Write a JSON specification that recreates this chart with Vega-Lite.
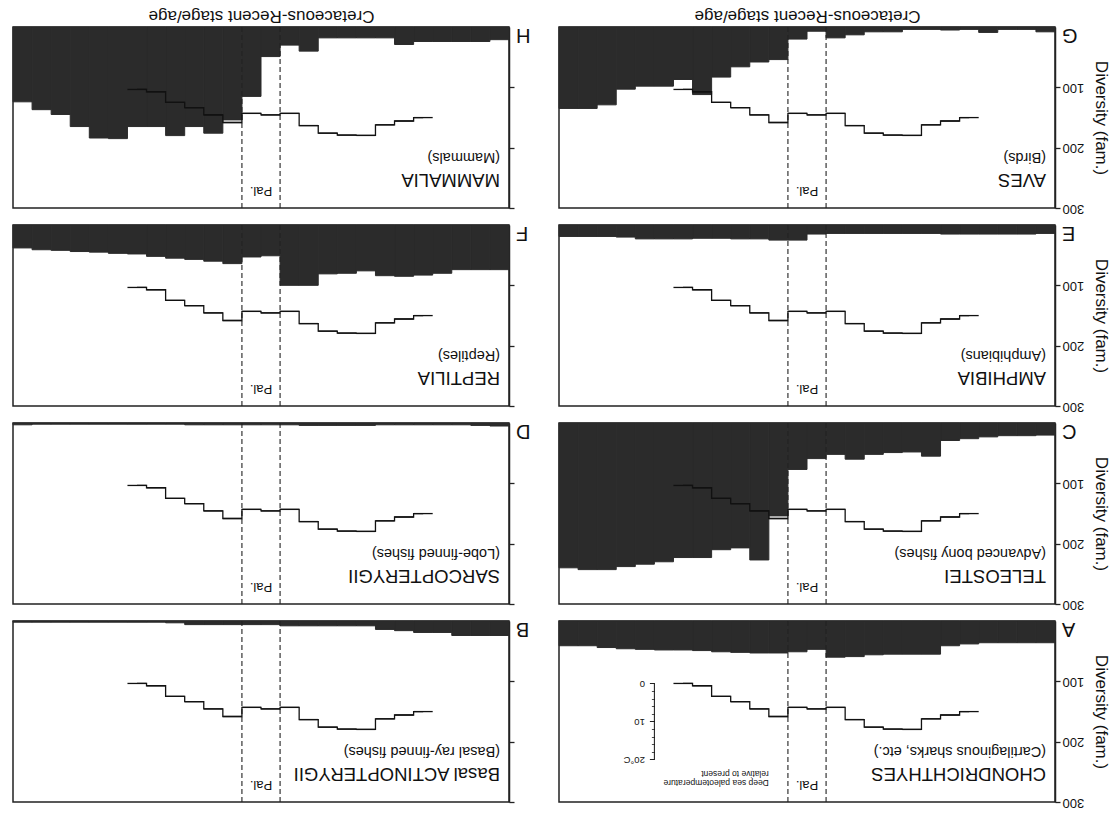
{
"$schema": "https://vega.github.io/schema/vega-lite/v6.json",
"background": "#ffffff",
"padding": {"left": 11, "top": 6, "right": 5, "bottom": 5},
"config": {
  "view": {"stroke": "#222222", "strokeWidth": 1.5},
  "font": "Liberation Sans",
  "axis": {"grid": false, "domainColor": "#222222", "tickColor": "#222222", "labelColor": "#111111", "titleColor": "#111111", "labelFont": "Liberation Sans", "titleFont": "Liberation Sans", "domainWidth": 1.5, "tickWidth": 1.3},
  "text": {"font": "Liberation Sans", "color": "#111111"}
},
"datasets": {
  "div": [
    {"stage":"Berriasian","A":36,"B":24,"C":20,"D":5,"E":14,"F":74,"G":8,"H":21},
    {"stage":"Valanginian","A":36,"B":24,"C":21,"D":4,"E":15,"F":74,"G":4,"H":24},
    {"stage":"Hauterivian","A":36,"B":24,"C":21,"D":3,"E":15,"F":74,"G":4,"H":24},
    {"stage":"Barremian","A":36,"B":19,"C":23,"D":3,"E":15,"F":80,"G":9,"H":24},
    {"stage":"Aptian","A":38,"B":19,"C":26,"D":3,"E":15,"F":83,"G":4,"H":24},
    {"stage":"Albian","A":41,"B":16,"C":29,"D":3,"E":15,"F":85,"G":5,"H":29},
    {"stage":"Cenomanian","A":55,"B":14,"C":55,"D":3,"E":14,"F":84,"G":4,"H":18},
    {"stage":"Turonian","A":55,"B":8,"C":48,"D":4,"E":14,"F":76,"G":4,"H":18},
    {"stage":"Coniacian","A":55,"B":8,"C":49,"D":4,"E":14,"F":80,"G":8,"H":18},
    {"stage":"Santonian","A":56,"B":8,"C":52,"D":4,"E":14,"F":81,"G":8,"H":18},
    {"stage":"Campanian","A":59,"B":8,"C":60,"D":4,"E":14,"F":100,"G":13,"H":40},
    {"stage":"Maastrichtian","A":60,"B":8,"C":52,"D":3,"E":14,"F":100,"G":18,"H":30},
    {"stage":"Danian","A":47,"B":6,"C":59,"D":3,"E":15,"F":51,"G":7,"H":49},
    {"stage":"Thanetian","A":51,"B":6,"C":77,"D":3,"E":25,"F":53,"G":20,"H":115},
    {"stage":"Ypresian","A":53,"B":6,"C":154,"D":3,"E":25,"F":64,"G":54,"H":154},
    {"stage":"Lutetian","A":53,"B":6,"C":227,"D":3,"E":23,"F":60,"G":58,"H":176},
    {"stage":"Bartonian","A":52,"B":6,"C":207,"D":3,"E":23,"F":57,"G":66,"H":165},
    {"stage":"Priabonian","A":51,"B":3,"C":210,"D":2,"E":22,"F":55,"G":83,"H":180},
    {"stage":"Rupelian","A":49,"B":2,"C":223,"D":2,"E":22,"F":52,"G":112,"H":165},
    {"stage":"Chattian","A":48,"B":2,"C":223,"D":2,"E":23,"F":48,"G":87,"H":165},
    {"stage":"Lower Miocene","A":48,"B":2,"C":230,"D":2,"E":23,"F":47,"G":98,"H":185},
    {"stage":"Middle Miocene","A":47,"B":2,"C":234,"D":2,"E":23,"F":45,"G":98,"H":184},
    {"stage":"Upper Miocene","A":46,"B":2,"C":238,"D":2,"E":20,"F":44,"G":103,"H":165},
    {"stage":"Pliocene","A":44,"B":2,"C":243,"D":2,"E":19,"F":42,"G":129,"H":145},
    {"stage":"Pleistocene","A":41,"B":2,"C":243,"D":2,"E":19,"F":41,"G":135,"H":137},
    {"stage":"Recent","A":41,"B":2,"C":240,"D":3,"E":19,"F":38,"G":135,"H":124}
  ],
  "temp": [
    {"stage":"Aptian","temp":7.4},{"stage":"Albian","temp":8.3},{"stage":"Cenomanian","temp":9.3},
    {"stage":"Turonian","temp":12.1},{"stage":"Coniacian","temp":12.0},{"stage":"Santonian","temp":11.5},
    {"stage":"Campanian","temp":9.5},{"stage":"Maastrichtian","temp":6.3},{"stage":"Danian","temp":6.7},
    {"stage":"Thanetian","temp":6.3},{"stage":"Ypresian","temp":8.7},{"stage":"Lutetian","temp":6.7},
    {"stage":"Bartonian","temp":4.8},{"stage":"Priabonian","temp":3.4},{"stage":"Rupelian","temp":0.6},
    {"stage":"Chattian","temp":0.0}
  ],
  "pal": [{"stage":"Maastrichtian"},{"stage":"Thanetian"}]
},
"columns": 2,
"spacing": {"row": 17, "column": 50},
"bounds": "flush",
"concat": [
  {"width": 496, "height": 181, "resolve": {"scale": {"y": "independent"}},
   "layer": [
    {"data": {"name": "div"}, "mark": {"type": "bar", "fill": "#2b2b2b", "stroke": "#2b2b2b", "strokeWidth": 1},
     "encoding": {
      "x": {"field": "stage", "type": "ordinal", "scale": {"type":"band","domain":["Berriasian","Valanginian","Hauterivian","Barremian","Aptian","Albian","Cenomanian","Turonian","Coniacian","Santonian","Campanian","Maastrichtian","Danian","Thanetian","Ypresian","Lutetian","Bartonian","Priabonian","Rupelian","Chattian","Lower Miocene","Middle Miocene","Upper Miocene","Pliocene","Pleistocene","Recent"],"reverse":true,"paddingInner":0,"paddingOuter":0},
            "axis": {"orient":"top","labels":false,"ticks":false,"domain":false,"title":"Cretaceous-Recent stage/age","titleAngle":180,"titleBaseline":"top","titleFontSize":17,"titleFontWeight":"normal","titlePadding":4}},
      "y": {"field": "H", "type": "quantitative", "scale": {"domain":[0,300],"reverse":true,"nice":false,"zero":false},
            "axis": {"orient":"right","values":[100,200,300],"labels":false,"tickSize":5,"title":null}}}},
    {"data": {"name": "pal"}, "mark": {"type": "rule", "strokeDash": [5, 3], "strokeWidth": 1.1, "color": "#222222"},
     "encoding": {"x": {"field": "stage", "type": "ordinal", "bandPosition": 0, "scale": {"type":"band","domain":["Berriasian","Valanginian","Hauterivian","Barremian","Aptian","Albian","Cenomanian","Turonian","Coniacian","Santonian","Campanian","Maastrichtian","Danian","Thanetian","Ypresian","Lutetian","Bartonian","Priabonian","Rupelian","Chattian","Lower Miocene","Middle Miocene","Upper Miocene","Pliocene","Pleistocene","Recent"],"reverse":true,"paddingInner":0,"paddingOuter":0}}}},
    {"data": {"values": [{}]}, "mark": {"type": "text", "text": "Pal.", "angle": 180, "fontSize": 13, "align": "center", "baseline": "middle"},
     "encoding": {"x": {"datum": "Danian", "type": "ordinal", "bandPosition": 0, "scale": {"type":"band","domain":["Berriasian","Valanginian","Hauterivian","Barremian","Aptian","Albian","Cenomanian","Turonian","Coniacian","Santonian","Campanian","Maastrichtian","Danian","Thanetian","Ypresian","Lutetian","Bartonian","Priabonian","Rupelian","Chattian","Lower Miocene","Middle Miocene","Upper Miocene","Pliocene","Pleistocene","Recent"],"reverse":true,"paddingInner":0,"paddingOuter":0}},
                  "y": {"datum": 272, "type": "quantitative", "axis": null, "scale": {"domain":[0,300],"reverse":true,"nice":false,"zero":false}}}},
    {"data": {"values": [{}]}, "mark": {"type": "text", "text": "MAMMALIA", "angle": 180, "fontSize": 18.5, "align": "left", "baseline": "middle", "dx": 9},
     "encoding": {"x": {"datum": "Berriasian", "type": "ordinal", "bandPosition": 1, "scale": {"type":"band","domain":["Berriasian","Valanginian","Hauterivian","Barremian","Aptian","Albian","Cenomanian","Turonian","Coniacian","Santonian","Campanian","Maastrichtian","Danian","Thanetian","Ypresian","Lutetian","Bartonian","Priabonian","Rupelian","Chattian","Lower Miocene","Middle Miocene","Upper Miocene","Pliocene","Pleistocene","Recent"],"reverse":true,"paddingInner":0,"paddingOuter":0}},
                  "y": {"datum": 253, "type": "quantitative", "axis": null, "scale": {"domain":[0,300],"reverse":true,"nice":false,"zero":false}}}},
    {"data": {"values": [{}]}, "mark": {"type": "text", "text": "(Mammals)", "angle": 180, "fontSize": 14.5, "align": "left", "baseline": "middle", "dx": 9},
     "encoding": {"x": {"datum": "Berriasian", "type": "ordinal", "bandPosition": 1, "scale": {"type":"band","domain":["Berriasian","Valanginian","Hauterivian","Barremian","Aptian","Albian","Cenomanian","Turonian","Coniacian","Santonian","Campanian","Maastrichtian","Danian","Thanetian","Ypresian","Lutetian","Bartonian","Priabonian","Rupelian","Chattian","Lower Miocene","Middle Miocene","Upper Miocene","Pliocene","Pleistocene","Recent"],"reverse":true,"paddingInner":0,"paddingOuter":0}},
                  "y": {"datum": 216, "type": "quantitative", "axis": null, "scale": {"domain":[0,300],"reverse":true,"nice":false,"zero":false}}}},
    {"data": {"values": [{}]}, "mark": {"type": "text", "text": "H", "angle": 180, "fontSize": 20, "align": "right", "baseline": "alphabetic", "dx": -7, "dy": -2},
     "encoding": {"x": {"datum": "Berriasian", "type": "ordinal", "bandPosition": 1, "scale": {"type":"band","domain":["Berriasian","Valanginian","Hauterivian","Barremian","Aptian","Albian","Cenomanian","Turonian","Coniacian","Santonian","Campanian","Maastrichtian","Danian","Thanetian","Ypresian","Lutetian","Bartonian","Priabonian","Rupelian","Chattian","Lower Miocene","Middle Miocene","Upper Miocene","Pliocene","Pleistocene","Recent"],"reverse":true,"paddingInner":0,"paddingOuter":0}},
                  "y": {"datum": 0, "type": "quantitative", "axis": null, "scale": {"domain":[0,300],"reverse":true,"nice":false,"zero":false}}}},
    {"data": {"name": "temp"}, "mark": {"type": "rule", "strokeWidth": 1.3, "color": "#111111"},
     "encoding": {"x": {"field": "stage", "type": "ordinal", "bandPosition": 0, "scale": {"type":"band","domain":["Berriasian","Valanginian","Hauterivian","Barremian","Aptian","Albian","Cenomanian","Turonian","Coniacian","Santonian","Campanian","Maastrichtian","Danian","Thanetian","Ypresian","Lutetian","Bartonian","Priabonian","Rupelian","Chattian","Lower Miocene","Middle Miocene","Upper Miocene","Pliocene","Pleistocene","Recent"],"reverse":true,"paddingInner":0,"paddingOuter":0}},
                  "x2": {"field": "stage", "bandPosition": 1},
                  "y": {"field": "temp", "type": "quantitative", "axis": null, "scale": {"domain":[-16.43,31.19],"reverse":true,"nice":false,"zero":false}}}},
    {"data": {"name": "temp"}, "mark": {"type": "line", "interpolate": "step", "strokeWidth": 1.3, "color": "#111111"},
     "encoding": {"x": {"field": "stage", "type": "ordinal", "sort": ["Berriasian","Valanginian","Hauterivian","Barremian","Aptian","Albian","Cenomanian","Turonian","Coniacian","Santonian","Campanian","Maastrichtian","Danian","Thanetian","Ypresian","Lutetian","Bartonian","Priabonian","Rupelian","Chattian","Lower Miocene","Middle Miocene","Upper Miocene","Pliocene","Pleistocene","Recent"], "scale": {"type":"band","domain":["Berriasian","Valanginian","Hauterivian","Barremian","Aptian","Albian","Cenomanian","Turonian","Coniacian","Santonian","Campanian","Maastrichtian","Danian","Thanetian","Ypresian","Lutetian","Bartonian","Priabonian","Rupelian","Chattian","Lower Miocene","Middle Miocene","Upper Miocene","Pliocene","Pleistocene","Recent"],"reverse":true,"paddingInner":0,"paddingOuter":0}},
                  "y": {"field": "temp", "type": "quantitative", "axis": null, "scale": {"domain":[-16.43,31.19],"reverse":true,"nice":false,"zero":false}}}}
   ]},
  {"width": 496, "height": 181, "resolve": {"scale": {"y": "independent"}},
   "layer": [
    {"data": {"name": "div"}, "mark": {"type": "bar", "fill": "#2b2b2b", "stroke": "#2b2b2b", "strokeWidth": 1},
     "encoding": {
      "x": {"field": "stage", "type": "ordinal", "scale": {"type":"band","domain":["Berriasian","Valanginian","Hauterivian","Barremian","Aptian","Albian","Cenomanian","Turonian","Coniacian","Santonian","Campanian","Maastrichtian","Danian","Thanetian","Ypresian","Lutetian","Bartonian","Priabonian","Rupelian","Chattian","Lower Miocene","Middle Miocene","Upper Miocene","Pliocene","Pleistocene","Recent"],"reverse":true,"paddingInner":0,"paddingOuter":0},
            "axis": {"orient":"top","labels":false,"ticks":false,"domain":false,"title":"Cretaceous-Recent stage/age","titleAngle":180,"titleBaseline":"top","titleFontSize":17,"titleFontWeight":"normal","titlePadding":4}},
      "y": {"field": "G", "type": "quantitative", "scale": {"domain":[0,300],"reverse":true,"nice":false,"zero":false},
            "axis": {"orient":"right","values":[100,200,300],"labelAngle":180,"labelAlign":"right","labelBaseline":"middle","labelFontSize":13,"labelPadding":2,"tickSize":5,"title":"Diversity (fam.)","titleFontSize":17,"titleFontWeight":"normal","titlePadding":8}}}},
    {"data": {"name": "pal"}, "mark": {"type": "rule", "strokeDash": [5, 3], "strokeWidth": 1.1, "color": "#222222"},
     "encoding": {"x": {"field": "stage", "type": "ordinal", "bandPosition": 0, "scale": {"type":"band","domain":["Berriasian","Valanginian","Hauterivian","Barremian","Aptian","Albian","Cenomanian","Turonian","Coniacian","Santonian","Campanian","Maastrichtian","Danian","Thanetian","Ypresian","Lutetian","Bartonian","Priabonian","Rupelian","Chattian","Lower Miocene","Middle Miocene","Upper Miocene","Pliocene","Pleistocene","Recent"],"reverse":true,"paddingInner":0,"paddingOuter":0}}}},
    {"data": {"values": [{}]}, "mark": {"type": "text", "text": "Pal.", "angle": 180, "fontSize": 13, "align": "center", "baseline": "middle"},
     "encoding": {"x": {"datum": "Danian", "type": "ordinal", "bandPosition": 0, "scale": {"type":"band","domain":["Berriasian","Valanginian","Hauterivian","Barremian","Aptian","Albian","Cenomanian","Turonian","Coniacian","Santonian","Campanian","Maastrichtian","Danian","Thanetian","Ypresian","Lutetian","Bartonian","Priabonian","Rupelian","Chattian","Lower Miocene","Middle Miocene","Upper Miocene","Pliocene","Pleistocene","Recent"],"reverse":true,"paddingInner":0,"paddingOuter":0}},
                  "y": {"datum": 272, "type": "quantitative", "axis": null, "scale": {"domain":[0,300],"reverse":true,"nice":false,"zero":false}}}},
    {"data": {"values": [{}]}, "mark": {"type": "text", "text": "AVES", "angle": 180, "fontSize": 18.5, "align": "left", "baseline": "middle", "dx": 9},
     "encoding": {"x": {"datum": "Berriasian", "type": "ordinal", "bandPosition": 1, "scale": {"type":"band","domain":["Berriasian","Valanginian","Hauterivian","Barremian","Aptian","Albian","Cenomanian","Turonian","Coniacian","Santonian","Campanian","Maastrichtian","Danian","Thanetian","Ypresian","Lutetian","Bartonian","Priabonian","Rupelian","Chattian","Lower Miocene","Middle Miocene","Upper Miocene","Pliocene","Pleistocene","Recent"],"reverse":true,"paddingInner":0,"paddingOuter":0}},
                  "y": {"datum": 253, "type": "quantitative", "axis": null, "scale": {"domain":[0,300],"reverse":true,"nice":false,"zero":false}}}},
    {"data": {"values": [{}]}, "mark": {"type": "text", "text": "(Birds)", "angle": 180, "fontSize": 14.5, "align": "left", "baseline": "middle", "dx": 9},
     "encoding": {"x": {"datum": "Berriasian", "type": "ordinal", "bandPosition": 1, "scale": {"type":"band","domain":["Berriasian","Valanginian","Hauterivian","Barremian","Aptian","Albian","Cenomanian","Turonian","Coniacian","Santonian","Campanian","Maastrichtian","Danian","Thanetian","Ypresian","Lutetian","Bartonian","Priabonian","Rupelian","Chattian","Lower Miocene","Middle Miocene","Upper Miocene","Pliocene","Pleistocene","Recent"],"reverse":true,"paddingInner":0,"paddingOuter":0}},
                  "y": {"datum": 216, "type": "quantitative", "axis": null, "scale": {"domain":[0,300],"reverse":true,"nice":false,"zero":false}}}},
    {"data": {"values": [{}]}, "mark": {"type": "text", "text": "G", "angle": 180, "fontSize": 20, "align": "right", "baseline": "alphabetic", "dx": -7, "dy": -2},
     "encoding": {"x": {"datum": "Berriasian", "type": "ordinal", "bandPosition": 1, "scale": {"type":"band","domain":["Berriasian","Valanginian","Hauterivian","Barremian","Aptian","Albian","Cenomanian","Turonian","Coniacian","Santonian","Campanian","Maastrichtian","Danian","Thanetian","Ypresian","Lutetian","Bartonian","Priabonian","Rupelian","Chattian","Lower Miocene","Middle Miocene","Upper Miocene","Pliocene","Pleistocene","Recent"],"reverse":true,"paddingInner":0,"paddingOuter":0}},
                  "y": {"datum": 0, "type": "quantitative", "axis": null, "scale": {"domain":[0,300],"reverse":true,"nice":false,"zero":false}}}},
    {"data": {"name": "temp"}, "mark": {"type": "rule", "strokeWidth": 1.3, "color": "#111111"},
     "encoding": {"x": {"field": "stage", "type": "ordinal", "bandPosition": 0, "scale": {"type":"band","domain":["Berriasian","Valanginian","Hauterivian","Barremian","Aptian","Albian","Cenomanian","Turonian","Coniacian","Santonian","Campanian","Maastrichtian","Danian","Thanetian","Ypresian","Lutetian","Bartonian","Priabonian","Rupelian","Chattian","Lower Miocene","Middle Miocene","Upper Miocene","Pliocene","Pleistocene","Recent"],"reverse":true,"paddingInner":0,"paddingOuter":0}},
                  "x2": {"field": "stage", "bandPosition": 1},
                  "y": {"field": "temp", "type": "quantitative", "axis": null, "scale": {"domain":[-16.43,31.19],"reverse":true,"nice":false,"zero":false}}}},
    {"data": {"name": "temp"}, "mark": {"type": "line", "interpolate": "step", "strokeWidth": 1.3, "color": "#111111"},
     "encoding": {"x": {"field": "stage", "type": "ordinal", "sort": ["Berriasian","Valanginian","Hauterivian","Barremian","Aptian","Albian","Cenomanian","Turonian","Coniacian","Santonian","Campanian","Maastrichtian","Danian","Thanetian","Ypresian","Lutetian","Bartonian","Priabonian","Rupelian","Chattian","Lower Miocene","Middle Miocene","Upper Miocene","Pliocene","Pleistocene","Recent"], "scale": {"type":"band","domain":["Berriasian","Valanginian","Hauterivian","Barremian","Aptian","Albian","Cenomanian","Turonian","Coniacian","Santonian","Campanian","Maastrichtian","Danian","Thanetian","Ypresian","Lutetian","Bartonian","Priabonian","Rupelian","Chattian","Lower Miocene","Middle Miocene","Upper Miocene","Pliocene","Pleistocene","Recent"],"reverse":true,"paddingInner":0,"paddingOuter":0}},
                  "y": {"field": "temp", "type": "quantitative", "axis": null, "scale": {"domain":[-16.43,31.19],"reverse":true,"nice":false,"zero":false}}}}
   ]},
  {"width": 496, "height": 181, "resolve": {"scale": {"y": "independent"}},
   "layer": [
    {"data": {"name": "div"}, "mark": {"type": "bar", "fill": "#2b2b2b", "stroke": "#2b2b2b", "strokeWidth": 1},
     "encoding": {
      "x": {"field": "stage", "type": "ordinal", "axis": null, "scale": {"type":"band","domain":["Berriasian","Valanginian","Hauterivian","Barremian","Aptian","Albian","Cenomanian","Turonian","Coniacian","Santonian","Campanian","Maastrichtian","Danian","Thanetian","Ypresian","Lutetian","Bartonian","Priabonian","Rupelian","Chattian","Lower Miocene","Middle Miocene","Upper Miocene","Pliocene","Pleistocene","Recent"],"reverse":true,"paddingInner":0,"paddingOuter":0}},
      "y": {"field": "F", "type": "quantitative", "scale": {"domain":[0,300],"reverse":true,"nice":false,"zero":false},
            "axis": {"orient":"right","values":[100,200,300],"labels":false,"tickSize":5,"title":null}}}},
    {"data": {"name": "pal"}, "mark": {"type": "rule", "strokeDash": [5, 3], "strokeWidth": 1.1, "color": "#222222"},
     "encoding": {"x": {"field": "stage", "type": "ordinal", "bandPosition": 0, "scale": {"type":"band","domain":["Berriasian","Valanginian","Hauterivian","Barremian","Aptian","Albian","Cenomanian","Turonian","Coniacian","Santonian","Campanian","Maastrichtian","Danian","Thanetian","Ypresian","Lutetian","Bartonian","Priabonian","Rupelian","Chattian","Lower Miocene","Middle Miocene","Upper Miocene","Pliocene","Pleistocene","Recent"],"reverse":true,"paddingInner":0,"paddingOuter":0}}}},
    {"data": {"values": [{}]}, "mark": {"type": "text", "text": "Pal.", "angle": 180, "fontSize": 13, "align": "center", "baseline": "middle"},
     "encoding": {"x": {"datum": "Danian", "type": "ordinal", "bandPosition": 0, "scale": {"type":"band","domain":["Berriasian","Valanginian","Hauterivian","Barremian","Aptian","Albian","Cenomanian","Turonian","Coniacian","Santonian","Campanian","Maastrichtian","Danian","Thanetian","Ypresian","Lutetian","Bartonian","Priabonian","Rupelian","Chattian","Lower Miocene","Middle Miocene","Upper Miocene","Pliocene","Pleistocene","Recent"],"reverse":true,"paddingInner":0,"paddingOuter":0}},
                  "y": {"datum": 272, "type": "quantitative", "axis": null, "scale": {"domain":[0,300],"reverse":true,"nice":false,"zero":false}}}},
    {"data": {"values": [{}]}, "mark": {"type": "text", "text": "REPTILIA", "angle": 180, "fontSize": 18.5, "align": "left", "baseline": "middle", "dx": 9},
     "encoding": {"x": {"datum": "Berriasian", "type": "ordinal", "bandPosition": 1, "scale": {"type":"band","domain":["Berriasian","Valanginian","Hauterivian","Barremian","Aptian","Albian","Cenomanian","Turonian","Coniacian","Santonian","Campanian","Maastrichtian","Danian","Thanetian","Ypresian","Lutetian","Bartonian","Priabonian","Rupelian","Chattian","Lower Miocene","Middle Miocene","Upper Miocene","Pliocene","Pleistocene","Recent"],"reverse":true,"paddingInner":0,"paddingOuter":0}},
                  "y": {"datum": 253, "type": "quantitative", "axis": null, "scale": {"domain":[0,300],"reverse":true,"nice":false,"zero":false}}}},
    {"data": {"values": [{}]}, "mark": {"type": "text", "text": "(Reptiles)", "angle": 180, "fontSize": 14.5, "align": "left", "baseline": "middle", "dx": 9},
     "encoding": {"x": {"datum": "Berriasian", "type": "ordinal", "bandPosition": 1, "scale": {"type":"band","domain":["Berriasian","Valanginian","Hauterivian","Barremian","Aptian","Albian","Cenomanian","Turonian","Coniacian","Santonian","Campanian","Maastrichtian","Danian","Thanetian","Ypresian","Lutetian","Bartonian","Priabonian","Rupelian","Chattian","Lower Miocene","Middle Miocene","Upper Miocene","Pliocene","Pleistocene","Recent"],"reverse":true,"paddingInner":0,"paddingOuter":0}},
                  "y": {"datum": 216, "type": "quantitative", "axis": null, "scale": {"domain":[0,300],"reverse":true,"nice":false,"zero":false}}}},
    {"data": {"values": [{}]}, "mark": {"type": "text", "text": "F", "angle": 180, "fontSize": 20, "align": "right", "baseline": "alphabetic", "dx": -7, "dy": -2},
     "encoding": {"x": {"datum": "Berriasian", "type": "ordinal", "bandPosition": 1, "scale": {"type":"band","domain":["Berriasian","Valanginian","Hauterivian","Barremian","Aptian","Albian","Cenomanian","Turonian","Coniacian","Santonian","Campanian","Maastrichtian","Danian","Thanetian","Ypresian","Lutetian","Bartonian","Priabonian","Rupelian","Chattian","Lower Miocene","Middle Miocene","Upper Miocene","Pliocene","Pleistocene","Recent"],"reverse":true,"paddingInner":0,"paddingOuter":0}},
                  "y": {"datum": 0, "type": "quantitative", "axis": null, "scale": {"domain":[0,300],"reverse":true,"nice":false,"zero":false}}}},
    {"data": {"name": "temp"}, "mark": {"type": "rule", "strokeWidth": 1.3, "color": "#111111"},
     "encoding": {"x": {"field": "stage", "type": "ordinal", "bandPosition": 0, "scale": {"type":"band","domain":["Berriasian","Valanginian","Hauterivian","Barremian","Aptian","Albian","Cenomanian","Turonian","Coniacian","Santonian","Campanian","Maastrichtian","Danian","Thanetian","Ypresian","Lutetian","Bartonian","Priabonian","Rupelian","Chattian","Lower Miocene","Middle Miocene","Upper Miocene","Pliocene","Pleistocene","Recent"],"reverse":true,"paddingInner":0,"paddingOuter":0}},
                  "x2": {"field": "stage", "bandPosition": 1},
                  "y": {"field": "temp", "type": "quantitative", "axis": null, "scale": {"domain":[-16.43,31.19],"reverse":true,"nice":false,"zero":false}}}},
    {"data": {"name": "temp"}, "mark": {"type": "line", "interpolate": "step", "strokeWidth": 1.3, "color": "#111111"},
     "encoding": {"x": {"field": "stage", "type": "ordinal", "sort": ["Berriasian","Valanginian","Hauterivian","Barremian","Aptian","Albian","Cenomanian","Turonian","Coniacian","Santonian","Campanian","Maastrichtian","Danian","Thanetian","Ypresian","Lutetian","Bartonian","Priabonian","Rupelian","Chattian","Lower Miocene","Middle Miocene","Upper Miocene","Pliocene","Pleistocene","Recent"], "scale": {"type":"band","domain":["Berriasian","Valanginian","Hauterivian","Barremian","Aptian","Albian","Cenomanian","Turonian","Coniacian","Santonian","Campanian","Maastrichtian","Danian","Thanetian","Ypresian","Lutetian","Bartonian","Priabonian","Rupelian","Chattian","Lower Miocene","Middle Miocene","Upper Miocene","Pliocene","Pleistocene","Recent"],"reverse":true,"paddingInner":0,"paddingOuter":0}},
                  "y": {"field": "temp", "type": "quantitative", "axis": null, "scale": {"domain":[-16.43,31.19],"reverse":true,"nice":false,"zero":false}}}}
   ]},
  {"width": 496, "height": 181, "resolve": {"scale": {"y": "independent"}},
   "layer": [
    {"data": {"name": "div"}, "mark": {"type": "bar", "fill": "#2b2b2b", "stroke": "#2b2b2b", "strokeWidth": 1},
     "encoding": {
      "x": {"field": "stage", "type": "ordinal", "axis": null, "scale": {"type":"band","domain":["Berriasian","Valanginian","Hauterivian","Barremian","Aptian","Albian","Cenomanian","Turonian","Coniacian","Santonian","Campanian","Maastrichtian","Danian","Thanetian","Ypresian","Lutetian","Bartonian","Priabonian","Rupelian","Chattian","Lower Miocene","Middle Miocene","Upper Miocene","Pliocene","Pleistocene","Recent"],"reverse":true,"paddingInner":0,"paddingOuter":0}},
      "y": {"field": "E", "type": "quantitative", "scale": {"domain":[0,300],"reverse":true,"nice":false,"zero":false},
            "axis": {"orient":"right","values":[100,200,300],"labelAngle":180,"labelAlign":"right","labelBaseline":"middle","labelFontSize":13,"labelPadding":2,"tickSize":5,"title":"Diversity (fam.)","titleFontSize":17,"titleFontWeight":"normal","titlePadding":8}}}},
    {"data": {"name": "pal"}, "mark": {"type": "rule", "strokeDash": [5, 3], "strokeWidth": 1.1, "color": "#222222"},
     "encoding": {"x": {"field": "stage", "type": "ordinal", "bandPosition": 0, "scale": {"type":"band","domain":["Berriasian","Valanginian","Hauterivian","Barremian","Aptian","Albian","Cenomanian","Turonian","Coniacian","Santonian","Campanian","Maastrichtian","Danian","Thanetian","Ypresian","Lutetian","Bartonian","Priabonian","Rupelian","Chattian","Lower Miocene","Middle Miocene","Upper Miocene","Pliocene","Pleistocene","Recent"],"reverse":true,"paddingInner":0,"paddingOuter":0}}}},
    {"data": {"values": [{}]}, "mark": {"type": "text", "text": "Pal.", "angle": 180, "fontSize": 13, "align": "center", "baseline": "middle"},
     "encoding": {"x": {"datum": "Danian", "type": "ordinal", "bandPosition": 0, "scale": {"type":"band","domain":["Berriasian","Valanginian","Hauterivian","Barremian","Aptian","Albian","Cenomanian","Turonian","Coniacian","Santonian","Campanian","Maastrichtian","Danian","Thanetian","Ypresian","Lutetian","Bartonian","Priabonian","Rupelian","Chattian","Lower Miocene","Middle Miocene","Upper Miocene","Pliocene","Pleistocene","Recent"],"reverse":true,"paddingInner":0,"paddingOuter":0}},
                  "y": {"datum": 272, "type": "quantitative", "axis": null, "scale": {"domain":[0,300],"reverse":true,"nice":false,"zero":false}}}},
    {"data": {"values": [{}]}, "mark": {"type": "text", "text": "AMPHIBIA", "angle": 180, "fontSize": 18.5, "align": "left", "baseline": "middle", "dx": 9},
     "encoding": {"x": {"datum": "Berriasian", "type": "ordinal", "bandPosition": 1, "scale": {"type":"band","domain":["Berriasian","Valanginian","Hauterivian","Barremian","Aptian","Albian","Cenomanian","Turonian","Coniacian","Santonian","Campanian","Maastrichtian","Danian","Thanetian","Ypresian","Lutetian","Bartonian","Priabonian","Rupelian","Chattian","Lower Miocene","Middle Miocene","Upper Miocene","Pliocene","Pleistocene","Recent"],"reverse":true,"paddingInner":0,"paddingOuter":0}},
                  "y": {"datum": 253, "type": "quantitative", "axis": null, "scale": {"domain":[0,300],"reverse":true,"nice":false,"zero":false}}}},
    {"data": {"values": [{}]}, "mark": {"type": "text", "text": "(Amphibians)", "angle": 180, "fontSize": 14.5, "align": "left", "baseline": "middle", "dx": 9},
     "encoding": {"x": {"datum": "Berriasian", "type": "ordinal", "bandPosition": 1, "scale": {"type":"band","domain":["Berriasian","Valanginian","Hauterivian","Barremian","Aptian","Albian","Cenomanian","Turonian","Coniacian","Santonian","Campanian","Maastrichtian","Danian","Thanetian","Ypresian","Lutetian","Bartonian","Priabonian","Rupelian","Chattian","Lower Miocene","Middle Miocene","Upper Miocene","Pliocene","Pleistocene","Recent"],"reverse":true,"paddingInner":0,"paddingOuter":0}},
                  "y": {"datum": 216, "type": "quantitative", "axis": null, "scale": {"domain":[0,300],"reverse":true,"nice":false,"zero":false}}}},
    {"data": {"values": [{}]}, "mark": {"type": "text", "text": "E", "angle": 180, "fontSize": 20, "align": "right", "baseline": "alphabetic", "dx": -7, "dy": -2},
     "encoding": {"x": {"datum": "Berriasian", "type": "ordinal", "bandPosition": 1, "scale": {"type":"band","domain":["Berriasian","Valanginian","Hauterivian","Barremian","Aptian","Albian","Cenomanian","Turonian","Coniacian","Santonian","Campanian","Maastrichtian","Danian","Thanetian","Ypresian","Lutetian","Bartonian","Priabonian","Rupelian","Chattian","Lower Miocene","Middle Miocene","Upper Miocene","Pliocene","Pleistocene","Recent"],"reverse":true,"paddingInner":0,"paddingOuter":0}},
                  "y": {"datum": 0, "type": "quantitative", "axis": null, "scale": {"domain":[0,300],"reverse":true,"nice":false,"zero":false}}}},
    {"data": {"name": "temp"}, "mark": {"type": "rule", "strokeWidth": 1.3, "color": "#111111"},
     "encoding": {"x": {"field": "stage", "type": "ordinal", "bandPosition": 0, "scale": {"type":"band","domain":["Berriasian","Valanginian","Hauterivian","Barremian","Aptian","Albian","Cenomanian","Turonian","Coniacian","Santonian","Campanian","Maastrichtian","Danian","Thanetian","Ypresian","Lutetian","Bartonian","Priabonian","Rupelian","Chattian","Lower Miocene","Middle Miocene","Upper Miocene","Pliocene","Pleistocene","Recent"],"reverse":true,"paddingInner":0,"paddingOuter":0}},
                  "x2": {"field": "stage", "bandPosition": 1},
                  "y": {"field": "temp", "type": "quantitative", "axis": null, "scale": {"domain":[-16.43,31.19],"reverse":true,"nice":false,"zero":false}}}},
    {"data": {"name": "temp"}, "mark": {"type": "line", "interpolate": "step", "strokeWidth": 1.3, "color": "#111111"},
     "encoding": {"x": {"field": "stage", "type": "ordinal", "sort": ["Berriasian","Valanginian","Hauterivian","Barremian","Aptian","Albian","Cenomanian","Turonian","Coniacian","Santonian","Campanian","Maastrichtian","Danian","Thanetian","Ypresian","Lutetian","Bartonian","Priabonian","Rupelian","Chattian","Lower Miocene","Middle Miocene","Upper Miocene","Pliocene","Pleistocene","Recent"], "scale": {"type":"band","domain":["Berriasian","Valanginian","Hauterivian","Barremian","Aptian","Albian","Cenomanian","Turonian","Coniacian","Santonian","Campanian","Maastrichtian","Danian","Thanetian","Ypresian","Lutetian","Bartonian","Priabonian","Rupelian","Chattian","Lower Miocene","Middle Miocene","Upper Miocene","Pliocene","Pleistocene","Recent"],"reverse":true,"paddingInner":0,"paddingOuter":0}},
                  "y": {"field": "temp", "type": "quantitative", "axis": null, "scale": {"domain":[-16.43,31.19],"reverse":true,"nice":false,"zero":false}}}}
   ]},
  {"width": 496, "height": 181, "resolve": {"scale": {"y": "independent"}},
   "layer": [
    {"data": {"name": "div"}, "mark": {"type": "bar", "fill": "#2b2b2b", "stroke": "#2b2b2b", "strokeWidth": 1},
     "encoding": {
      "x": {"field": "stage", "type": "ordinal", "axis": null, "scale": {"type":"band","domain":["Berriasian","Valanginian","Hauterivian","Barremian","Aptian","Albian","Cenomanian","Turonian","Coniacian","Santonian","Campanian","Maastrichtian","Danian","Thanetian","Ypresian","Lutetian","Bartonian","Priabonian","Rupelian","Chattian","Lower Miocene","Middle Miocene","Upper Miocene","Pliocene","Pleistocene","Recent"],"reverse":true,"paddingInner":0,"paddingOuter":0}},
      "y": {"field": "D", "type": "quantitative", "scale": {"domain":[0,300],"reverse":true,"nice":false,"zero":false},
            "axis": {"orient":"right","values":[100,200,300],"labels":false,"tickSize":5,"title":null}}}},
    {"data": {"name": "pal"}, "mark": {"type": "rule", "strokeDash": [5, 3], "strokeWidth": 1.1, "color": "#222222"},
     "encoding": {"x": {"field": "stage", "type": "ordinal", "bandPosition": 0, "scale": {"type":"band","domain":["Berriasian","Valanginian","Hauterivian","Barremian","Aptian","Albian","Cenomanian","Turonian","Coniacian","Santonian","Campanian","Maastrichtian","Danian","Thanetian","Ypresian","Lutetian","Bartonian","Priabonian","Rupelian","Chattian","Lower Miocene","Middle Miocene","Upper Miocene","Pliocene","Pleistocene","Recent"],"reverse":true,"paddingInner":0,"paddingOuter":0}}}},
    {"data": {"values": [{}]}, "mark": {"type": "text", "text": "Pal.", "angle": 180, "fontSize": 13, "align": "center", "baseline": "middle"},
     "encoding": {"x": {"datum": "Danian", "type": "ordinal", "bandPosition": 0, "scale": {"type":"band","domain":["Berriasian","Valanginian","Hauterivian","Barremian","Aptian","Albian","Cenomanian","Turonian","Coniacian","Santonian","Campanian","Maastrichtian","Danian","Thanetian","Ypresian","Lutetian","Bartonian","Priabonian","Rupelian","Chattian","Lower Miocene","Middle Miocene","Upper Miocene","Pliocene","Pleistocene","Recent"],"reverse":true,"paddingInner":0,"paddingOuter":0}},
                  "y": {"datum": 272, "type": "quantitative", "axis": null, "scale": {"domain":[0,300],"reverse":true,"nice":false,"zero":false}}}},
    {"data": {"values": [{}]}, "mark": {"type": "text", "text": "SARCOPTERYGII", "angle": 180, "fontSize": 18.5, "align": "left", "baseline": "middle", "dx": 9},
     "encoding": {"x": {"datum": "Berriasian", "type": "ordinal", "bandPosition": 1, "scale": {"type":"band","domain":["Berriasian","Valanginian","Hauterivian","Barremian","Aptian","Albian","Cenomanian","Turonian","Coniacian","Santonian","Campanian","Maastrichtian","Danian","Thanetian","Ypresian","Lutetian","Bartonian","Priabonian","Rupelian","Chattian","Lower Miocene","Middle Miocene","Upper Miocene","Pliocene","Pleistocene","Recent"],"reverse":true,"paddingInner":0,"paddingOuter":0}},
                  "y": {"datum": 253, "type": "quantitative", "axis": null, "scale": {"domain":[0,300],"reverse":true,"nice":false,"zero":false}}}},
    {"data": {"values": [{}]}, "mark": {"type": "text", "text": "(Lobe-finned fishes)", "angle": 180, "fontSize": 14.5, "align": "left", "baseline": "middle", "dx": 9},
     "encoding": {"x": {"datum": "Berriasian", "type": "ordinal", "bandPosition": 1, "scale": {"type":"band","domain":["Berriasian","Valanginian","Hauterivian","Barremian","Aptian","Albian","Cenomanian","Turonian","Coniacian","Santonian","Campanian","Maastrichtian","Danian","Thanetian","Ypresian","Lutetian","Bartonian","Priabonian","Rupelian","Chattian","Lower Miocene","Middle Miocene","Upper Miocene","Pliocene","Pleistocene","Recent"],"reverse":true,"paddingInner":0,"paddingOuter":0}},
                  "y": {"datum": 216, "type": "quantitative", "axis": null, "scale": {"domain":[0,300],"reverse":true,"nice":false,"zero":false}}}},
    {"data": {"values": [{}]}, "mark": {"type": "text", "text": "D", "angle": 180, "fontSize": 20, "align": "right", "baseline": "alphabetic", "dx": -7, "dy": -2},
     "encoding": {"x": {"datum": "Berriasian", "type": "ordinal", "bandPosition": 1, "scale": {"type":"band","domain":["Berriasian","Valanginian","Hauterivian","Barremian","Aptian","Albian","Cenomanian","Turonian","Coniacian","Santonian","Campanian","Maastrichtian","Danian","Thanetian","Ypresian","Lutetian","Bartonian","Priabonian","Rupelian","Chattian","Lower Miocene","Middle Miocene","Upper Miocene","Pliocene","Pleistocene","Recent"],"reverse":true,"paddingInner":0,"paddingOuter":0}},
                  "y": {"datum": 0, "type": "quantitative", "axis": null, "scale": {"domain":[0,300],"reverse":true,"nice":false,"zero":false}}}},
    {"data": {"name": "temp"}, "mark": {"type": "rule", "strokeWidth": 1.3, "color": "#111111"},
     "encoding": {"x": {"field": "stage", "type": "ordinal", "bandPosition": 0, "scale": {"type":"band","domain":["Berriasian","Valanginian","Hauterivian","Barremian","Aptian","Albian","Cenomanian","Turonian","Coniacian","Santonian","Campanian","Maastrichtian","Danian","Thanetian","Ypresian","Lutetian","Bartonian","Priabonian","Rupelian","Chattian","Lower Miocene","Middle Miocene","Upper Miocene","Pliocene","Pleistocene","Recent"],"reverse":true,"paddingInner":0,"paddingOuter":0}},
                  "x2": {"field": "stage", "bandPosition": 1},
                  "y": {"field": "temp", "type": "quantitative", "axis": null, "scale": {"domain":[-16.43,31.19],"reverse":true,"nice":false,"zero":false}}}},
    {"data": {"name": "temp"}, "mark": {"type": "line", "interpolate": "step", "strokeWidth": 1.3, "color": "#111111"},
     "encoding": {"x": {"field": "stage", "type": "ordinal", "sort": ["Berriasian","Valanginian","Hauterivian","Barremian","Aptian","Albian","Cenomanian","Turonian","Coniacian","Santonian","Campanian","Maastrichtian","Danian","Thanetian","Ypresian","Lutetian","Bartonian","Priabonian","Rupelian","Chattian","Lower Miocene","Middle Miocene","Upper Miocene","Pliocene","Pleistocene","Recent"], "scale": {"type":"band","domain":["Berriasian","Valanginian","Hauterivian","Barremian","Aptian","Albian","Cenomanian","Turonian","Coniacian","Santonian","Campanian","Maastrichtian","Danian","Thanetian","Ypresian","Lutetian","Bartonian","Priabonian","Rupelian","Chattian","Lower Miocene","Middle Miocene","Upper Miocene","Pliocene","Pleistocene","Recent"],"reverse":true,"paddingInner":0,"paddingOuter":0}},
                  "y": {"field": "temp", "type": "quantitative", "axis": null, "scale": {"domain":[-16.43,31.19],"reverse":true,"nice":false,"zero":false}}}}
   ]},
  {"width": 496, "height": 181, "resolve": {"scale": {"y": "independent"}},
   "layer": [
    {"data": {"name": "div"}, "mark": {"type": "bar", "fill": "#2b2b2b", "stroke": "#2b2b2b", "strokeWidth": 1},
     "encoding": {
      "x": {"field": "stage", "type": "ordinal", "axis": null, "scale": {"type":"band","domain":["Berriasian","Valanginian","Hauterivian","Barremian","Aptian","Albian","Cenomanian","Turonian","Coniacian","Santonian","Campanian","Maastrichtian","Danian","Thanetian","Ypresian","Lutetian","Bartonian","Priabonian","Rupelian","Chattian","Lower Miocene","Middle Miocene","Upper Miocene","Pliocene","Pleistocene","Recent"],"reverse":true,"paddingInner":0,"paddingOuter":0}},
      "y": {"field": "C", "type": "quantitative", "scale": {"domain":[0,300],"reverse":true,"nice":false,"zero":false},
            "axis": {"orient":"right","values":[100,200,300],"labelAngle":180,"labelAlign":"right","labelBaseline":"middle","labelFontSize":13,"labelPadding":2,"tickSize":5,"title":"Diversity (fam.)","titleFontSize":17,"titleFontWeight":"normal","titlePadding":8}}}},
    {"data": {"name": "pal"}, "mark": {"type": "rule", "strokeDash": [5, 3], "strokeWidth": 1.1, "color": "#222222"},
     "encoding": {"x": {"field": "stage", "type": "ordinal", "bandPosition": 0, "scale": {"type":"band","domain":["Berriasian","Valanginian","Hauterivian","Barremian","Aptian","Albian","Cenomanian","Turonian","Coniacian","Santonian","Campanian","Maastrichtian","Danian","Thanetian","Ypresian","Lutetian","Bartonian","Priabonian","Rupelian","Chattian","Lower Miocene","Middle Miocene","Upper Miocene","Pliocene","Pleistocene","Recent"],"reverse":true,"paddingInner":0,"paddingOuter":0}}}},
    {"data": {"values": [{}]}, "mark": {"type": "text", "text": "Pal.", "angle": 180, "fontSize": 13, "align": "center", "baseline": "middle"},
     "encoding": {"x": {"datum": "Danian", "type": "ordinal", "bandPosition": 0, "scale": {"type":"band","domain":["Berriasian","Valanginian","Hauterivian","Barremian","Aptian","Albian","Cenomanian","Turonian","Coniacian","Santonian","Campanian","Maastrichtian","Danian","Thanetian","Ypresian","Lutetian","Bartonian","Priabonian","Rupelian","Chattian","Lower Miocene","Middle Miocene","Upper Miocene","Pliocene","Pleistocene","Recent"],"reverse":true,"paddingInner":0,"paddingOuter":0}},
                  "y": {"datum": 272, "type": "quantitative", "axis": null, "scale": {"domain":[0,300],"reverse":true,"nice":false,"zero":false}}}},
    {"data": {"values": [{}]}, "mark": {"type": "text", "text": "TELEOSTEI", "angle": 180, "fontSize": 18.5, "align": "left", "baseline": "middle", "dx": 9},
     "encoding": {"x": {"datum": "Berriasian", "type": "ordinal", "bandPosition": 1, "scale": {"type":"band","domain":["Berriasian","Valanginian","Hauterivian","Barremian","Aptian","Albian","Cenomanian","Turonian","Coniacian","Santonian","Campanian","Maastrichtian","Danian","Thanetian","Ypresian","Lutetian","Bartonian","Priabonian","Rupelian","Chattian","Lower Miocene","Middle Miocene","Upper Miocene","Pliocene","Pleistocene","Recent"],"reverse":true,"paddingInner":0,"paddingOuter":0}},
                  "y": {"datum": 253, "type": "quantitative", "axis": null, "scale": {"domain":[0,300],"reverse":true,"nice":false,"zero":false}}}},
    {"data": {"values": [{}]}, "mark": {"type": "text", "text": "(Advanced bony fishes)", "angle": 180, "fontSize": 14.5, "align": "left", "baseline": "middle", "dx": 9},
     "encoding": {"x": {"datum": "Berriasian", "type": "ordinal", "bandPosition": 1, "scale": {"type":"band","domain":["Berriasian","Valanginian","Hauterivian","Barremian","Aptian","Albian","Cenomanian","Turonian","Coniacian","Santonian","Campanian","Maastrichtian","Danian","Thanetian","Ypresian","Lutetian","Bartonian","Priabonian","Rupelian","Chattian","Lower Miocene","Middle Miocene","Upper Miocene","Pliocene","Pleistocene","Recent"],"reverse":true,"paddingInner":0,"paddingOuter":0}},
                  "y": {"datum": 216, "type": "quantitative", "axis": null, "scale": {"domain":[0,300],"reverse":true,"nice":false,"zero":false}}}},
    {"data": {"values": [{}]}, "mark": {"type": "text", "text": "C", "angle": 180, "fontSize": 20, "align": "right", "baseline": "alphabetic", "dx": -7, "dy": -2},
     "encoding": {"x": {"datum": "Berriasian", "type": "ordinal", "bandPosition": 1, "scale": {"type":"band","domain":["Berriasian","Valanginian","Hauterivian","Barremian","Aptian","Albian","Cenomanian","Turonian","Coniacian","Santonian","Campanian","Maastrichtian","Danian","Thanetian","Ypresian","Lutetian","Bartonian","Priabonian","Rupelian","Chattian","Lower Miocene","Middle Miocene","Upper Miocene","Pliocene","Pleistocene","Recent"],"reverse":true,"paddingInner":0,"paddingOuter":0}},
                  "y": {"datum": 0, "type": "quantitative", "axis": null, "scale": {"domain":[0,300],"reverse":true,"nice":false,"zero":false}}}},
    {"data": {"name": "temp"}, "mark": {"type": "rule", "strokeWidth": 1.3, "color": "#111111"},
     "encoding": {"x": {"field": "stage", "type": "ordinal", "bandPosition": 0, "scale": {"type":"band","domain":["Berriasian","Valanginian","Hauterivian","Barremian","Aptian","Albian","Cenomanian","Turonian","Coniacian","Santonian","Campanian","Maastrichtian","Danian","Thanetian","Ypresian","Lutetian","Bartonian","Priabonian","Rupelian","Chattian","Lower Miocene","Middle Miocene","Upper Miocene","Pliocene","Pleistocene","Recent"],"reverse":true,"paddingInner":0,"paddingOuter":0}},
                  "x2": {"field": "stage", "bandPosition": 1},
                  "y": {"field": "temp", "type": "quantitative", "axis": null, "scale": {"domain":[-16.43,31.19],"reverse":true,"nice":false,"zero":false}}}},
    {"data": {"name": "temp"}, "mark": {"type": "line", "interpolate": "step", "strokeWidth": 1.3, "color": "#111111"},
     "encoding": {"x": {"field": "stage", "type": "ordinal", "sort": ["Berriasian","Valanginian","Hauterivian","Barremian","Aptian","Albian","Cenomanian","Turonian","Coniacian","Santonian","Campanian","Maastrichtian","Danian","Thanetian","Ypresian","Lutetian","Bartonian","Priabonian","Rupelian","Chattian","Lower Miocene","Middle Miocene","Upper Miocene","Pliocene","Pleistocene","Recent"], "scale": {"type":"band","domain":["Berriasian","Valanginian","Hauterivian","Barremian","Aptian","Albian","Cenomanian","Turonian","Coniacian","Santonian","Campanian","Maastrichtian","Danian","Thanetian","Ypresian","Lutetian","Bartonian","Priabonian","Rupelian","Chattian","Lower Miocene","Middle Miocene","Upper Miocene","Pliocene","Pleistocene","Recent"],"reverse":true,"paddingInner":0,"paddingOuter":0}},
                  "y": {"field": "temp", "type": "quantitative", "axis": null, "scale": {"domain":[-16.43,31.19],"reverse":true,"nice":false,"zero":false}}}}
   ]},
  {"width": 496, "height": 181, "resolve": {"scale": {"y": "independent"}},
   "layer": [
    {"data": {"name": "div"}, "mark": {"type": "bar", "fill": "#2b2b2b", "stroke": "#2b2b2b", "strokeWidth": 1},
     "encoding": {
      "x": {"field": "stage", "type": "ordinal", "axis": null, "scale": {"type":"band","domain":["Berriasian","Valanginian","Hauterivian","Barremian","Aptian","Albian","Cenomanian","Turonian","Coniacian","Santonian","Campanian","Maastrichtian","Danian","Thanetian","Ypresian","Lutetian","Bartonian","Priabonian","Rupelian","Chattian","Lower Miocene","Middle Miocene","Upper Miocene","Pliocene","Pleistocene","Recent"],"reverse":true,"paddingInner":0,"paddingOuter":0}},
      "y": {"field": "B", "type": "quantitative", "scale": {"domain":[0,300],"reverse":true,"nice":false,"zero":false},
            "axis": {"orient":"right","values":[100,200,300],"labels":false,"tickSize":5,"title":null}}}},
    {"data": {"name": "pal"}, "mark": {"type": "rule", "strokeDash": [5, 3], "strokeWidth": 1.1, "color": "#222222"},
     "encoding": {"x": {"field": "stage", "type": "ordinal", "bandPosition": 0, "scale": {"type":"band","domain":["Berriasian","Valanginian","Hauterivian","Barremian","Aptian","Albian","Cenomanian","Turonian","Coniacian","Santonian","Campanian","Maastrichtian","Danian","Thanetian","Ypresian","Lutetian","Bartonian","Priabonian","Rupelian","Chattian","Lower Miocene","Middle Miocene","Upper Miocene","Pliocene","Pleistocene","Recent"],"reverse":true,"paddingInner":0,"paddingOuter":0}}}},
    {"data": {"values": [{}]}, "mark": {"type": "text", "text": "Pal.", "angle": 180, "fontSize": 13, "align": "center", "baseline": "middle"},
     "encoding": {"x": {"datum": "Danian", "type": "ordinal", "bandPosition": 0, "scale": {"type":"band","domain":["Berriasian","Valanginian","Hauterivian","Barremian","Aptian","Albian","Cenomanian","Turonian","Coniacian","Santonian","Campanian","Maastrichtian","Danian","Thanetian","Ypresian","Lutetian","Bartonian","Priabonian","Rupelian","Chattian","Lower Miocene","Middle Miocene","Upper Miocene","Pliocene","Pleistocene","Recent"],"reverse":true,"paddingInner":0,"paddingOuter":0}},
                  "y": {"datum": 272, "type": "quantitative", "axis": null, "scale": {"domain":[0,300],"reverse":true,"nice":false,"zero":false}}}},
    {"data": {"values": [{}]}, "mark": {"type": "text", "text": "Basal ACTINOPTERYGII", "angle": 180, "fontSize": 18.5, "align": "left", "baseline": "middle", "dx": 9},
     "encoding": {"x": {"datum": "Berriasian", "type": "ordinal", "bandPosition": 1, "scale": {"type":"band","domain":["Berriasian","Valanginian","Hauterivian","Barremian","Aptian","Albian","Cenomanian","Turonian","Coniacian","Santonian","Campanian","Maastrichtian","Danian","Thanetian","Ypresian","Lutetian","Bartonian","Priabonian","Rupelian","Chattian","Lower Miocene","Middle Miocene","Upper Miocene","Pliocene","Pleistocene","Recent"],"reverse":true,"paddingInner":0,"paddingOuter":0}},
                  "y": {"datum": 253, "type": "quantitative", "axis": null, "scale": {"domain":[0,300],"reverse":true,"nice":false,"zero":false}}}},
    {"data": {"values": [{}]}, "mark": {"type": "text", "text": "(Basal ray-finned fishes)", "angle": 180, "fontSize": 14.5, "align": "left", "baseline": "middle", "dx": 9},
     "encoding": {"x": {"datum": "Berriasian", "type": "ordinal", "bandPosition": 1, "scale": {"type":"band","domain":["Berriasian","Valanginian","Hauterivian","Barremian","Aptian","Albian","Cenomanian","Turonian","Coniacian","Santonian","Campanian","Maastrichtian","Danian","Thanetian","Ypresian","Lutetian","Bartonian","Priabonian","Rupelian","Chattian","Lower Miocene","Middle Miocene","Upper Miocene","Pliocene","Pleistocene","Recent"],"reverse":true,"paddingInner":0,"paddingOuter":0}},
                  "y": {"datum": 216, "type": "quantitative", "axis": null, "scale": {"domain":[0,300],"reverse":true,"nice":false,"zero":false}}}},
    {"data": {"values": [{}]}, "mark": {"type": "text", "text": "B", "angle": 180, "fontSize": 20, "align": "right", "baseline": "alphabetic", "dx": -7, "dy": -2},
     "encoding": {"x": {"datum": "Berriasian", "type": "ordinal", "bandPosition": 1, "scale": {"type":"band","domain":["Berriasian","Valanginian","Hauterivian","Barremian","Aptian","Albian","Cenomanian","Turonian","Coniacian","Santonian","Campanian","Maastrichtian","Danian","Thanetian","Ypresian","Lutetian","Bartonian","Priabonian","Rupelian","Chattian","Lower Miocene","Middle Miocene","Upper Miocene","Pliocene","Pleistocene","Recent"],"reverse":true,"paddingInner":0,"paddingOuter":0}},
                  "y": {"datum": 0, "type": "quantitative", "axis": null, "scale": {"domain":[0,300],"reverse":true,"nice":false,"zero":false}}}},
    {"data": {"name": "temp"}, "mark": {"type": "rule", "strokeWidth": 1.3, "color": "#111111"},
     "encoding": {"x": {"field": "stage", "type": "ordinal", "bandPosition": 0, "scale": {"type":"band","domain":["Berriasian","Valanginian","Hauterivian","Barremian","Aptian","Albian","Cenomanian","Turonian","Coniacian","Santonian","Campanian","Maastrichtian","Danian","Thanetian","Ypresian","Lutetian","Bartonian","Priabonian","Rupelian","Chattian","Lower Miocene","Middle Miocene","Upper Miocene","Pliocene","Pleistocene","Recent"],"reverse":true,"paddingInner":0,"paddingOuter":0}},
                  "x2": {"field": "stage", "bandPosition": 1},
                  "y": {"field": "temp", "type": "quantitative", "axis": null, "scale": {"domain":[-16.43,31.19],"reverse":true,"nice":false,"zero":false}}}},
    {"data": {"name": "temp"}, "mark": {"type": "line", "interpolate": "step", "strokeWidth": 1.3, "color": "#111111"},
     "encoding": {"x": {"field": "stage", "type": "ordinal", "sort": ["Berriasian","Valanginian","Hauterivian","Barremian","Aptian","Albian","Cenomanian","Turonian","Coniacian","Santonian","Campanian","Maastrichtian","Danian","Thanetian","Ypresian","Lutetian","Bartonian","Priabonian","Rupelian","Chattian","Lower Miocene","Middle Miocene","Upper Miocene","Pliocene","Pleistocene","Recent"], "scale": {"type":"band","domain":["Berriasian","Valanginian","Hauterivian","Barremian","Aptian","Albian","Cenomanian","Turonian","Coniacian","Santonian","Campanian","Maastrichtian","Danian","Thanetian","Ypresian","Lutetian","Bartonian","Priabonian","Rupelian","Chattian","Lower Miocene","Middle Miocene","Upper Miocene","Pliocene","Pleistocene","Recent"],"reverse":true,"paddingInner":0,"paddingOuter":0}},
                  "y": {"field": "temp", "type": "quantitative", "axis": null, "scale": {"domain":[-16.43,31.19],"reverse":true,"nice":false,"zero":false}}}}
   ]},
  {"width": 496, "height": 181, "resolve": {"scale": {"y": "independent"}},
   "layer": [
    {"data": {"name": "div"}, "mark": {"type": "bar", "fill": "#2b2b2b", "stroke": "#2b2b2b", "strokeWidth": 1},
     "encoding": {
      "x": {"field": "stage", "type": "ordinal", "axis": null, "scale": {"type":"band","domain":["Berriasian","Valanginian","Hauterivian","Barremian","Aptian","Albian","Cenomanian","Turonian","Coniacian","Santonian","Campanian","Maastrichtian","Danian","Thanetian","Ypresian","Lutetian","Bartonian","Priabonian","Rupelian","Chattian","Lower Miocene","Middle Miocene","Upper Miocene","Pliocene","Pleistocene","Recent"],"reverse":true,"paddingInner":0,"paddingOuter":0}},
      "y": {"field": "A", "type": "quantitative", "scale": {"domain":[0,300],"reverse":true,"nice":false,"zero":false},
            "axis": {"orient":"right","values":[100,200,300],"labelAngle":180,"labelAlign":"right","labelBaseline":"middle","labelFontSize":13,"labelPadding":2,"tickSize":5,"title":"Diversity (fam.)","titleFontSize":17,"titleFontWeight":"normal","titlePadding":8}}}},
    {"data": {"name": "pal"}, "mark": {"type": "rule", "strokeDash": [5, 3], "strokeWidth": 1.1, "color": "#222222"},
     "encoding": {"x": {"field": "stage", "type": "ordinal", "bandPosition": 0, "scale": {"type":"band","domain":["Berriasian","Valanginian","Hauterivian","Barremian","Aptian","Albian","Cenomanian","Turonian","Coniacian","Santonian","Campanian","Maastrichtian","Danian","Thanetian","Ypresian","Lutetian","Bartonian","Priabonian","Rupelian","Chattian","Lower Miocene","Middle Miocene","Upper Miocene","Pliocene","Pleistocene","Recent"],"reverse":true,"paddingInner":0,"paddingOuter":0}}}},
    {"data": {"values": [{}]}, "mark": {"type": "text", "text": "Pal.", "angle": 180, "fontSize": 13, "align": "center", "baseline": "middle"},
     "encoding": {"x": {"datum": "Danian", "type": "ordinal", "bandPosition": 0, "scale": {"type":"band","domain":["Berriasian","Valanginian","Hauterivian","Barremian","Aptian","Albian","Cenomanian","Turonian","Coniacian","Santonian","Campanian","Maastrichtian","Danian","Thanetian","Ypresian","Lutetian","Bartonian","Priabonian","Rupelian","Chattian","Lower Miocene","Middle Miocene","Upper Miocene","Pliocene","Pleistocene","Recent"],"reverse":true,"paddingInner":0,"paddingOuter":0}},
                  "y": {"datum": 272, "type": "quantitative", "axis": null, "scale": {"domain":[0,300],"reverse":true,"nice":false,"zero":false}}}},
    {"data": {"values": [{}]}, "mark": {"type": "text", "text": "CHONDRICHTHYES", "angle": 180, "fontSize": 18.5, "align": "left", "baseline": "middle", "dx": 9},
     "encoding": {"x": {"datum": "Berriasian", "type": "ordinal", "bandPosition": 1, "scale": {"type":"band","domain":["Berriasian","Valanginian","Hauterivian","Barremian","Aptian","Albian","Cenomanian","Turonian","Coniacian","Santonian","Campanian","Maastrichtian","Danian","Thanetian","Ypresian","Lutetian","Bartonian","Priabonian","Rupelian","Chattian","Lower Miocene","Middle Miocene","Upper Miocene","Pliocene","Pleistocene","Recent"],"reverse":true,"paddingInner":0,"paddingOuter":0}},
                  "y": {"datum": 253, "type": "quantitative", "axis": null, "scale": {"domain":[0,300],"reverse":true,"nice":false,"zero":false}}}},
    {"data": {"values": [{}]}, "mark": {"type": "text", "text": "(Cartilaginous sharks, etc.)", "angle": 180, "fontSize": 14.5, "align": "left", "baseline": "middle", "dx": 9},
     "encoding": {"x": {"datum": "Berriasian", "type": "ordinal", "bandPosition": 1, "scale": {"type":"band","domain":["Berriasian","Valanginian","Hauterivian","Barremian","Aptian","Albian","Cenomanian","Turonian","Coniacian","Santonian","Campanian","Maastrichtian","Danian","Thanetian","Ypresian","Lutetian","Bartonian","Priabonian","Rupelian","Chattian","Lower Miocene","Middle Miocene","Upper Miocene","Pliocene","Pleistocene","Recent"],"reverse":true,"paddingInner":0,"paddingOuter":0}},
                  "y": {"datum": 216, "type": "quantitative", "axis": null, "scale": {"domain":[0,300],"reverse":true,"nice":false,"zero":false}}}},
    {"data": {"values": [{}]}, "mark": {"type": "text", "text": "A", "angle": 180, "fontSize": 20, "align": "right", "baseline": "alphabetic", "dx": -7, "dy": -2},
     "encoding": {"x": {"datum": "Berriasian", "type": "ordinal", "bandPosition": 1, "scale": {"type":"band","domain":["Berriasian","Valanginian","Hauterivian","Barremian","Aptian","Albian","Cenomanian","Turonian","Coniacian","Santonian","Campanian","Maastrichtian","Danian","Thanetian","Ypresian","Lutetian","Bartonian","Priabonian","Rupelian","Chattian","Lower Miocene","Middle Miocene","Upper Miocene","Pliocene","Pleistocene","Recent"],"reverse":true,"paddingInner":0,"paddingOuter":0}},
                  "y": {"datum": 0, "type": "quantitative", "axis": null, "scale": {"domain":[0,300],"reverse":true,"nice":false,"zero":false}}}},
    {"data": {"values": [{}]}, "mark": {"type": "text", "text": "relative to present", "angle": 180, "fontSize": 8.5, "align": "left", "baseline": "middle"},
     "encoding": {"x": {"datum": "Ypresian", "type": "ordinal", "bandPosition": 0, "scale": {"type":"band","domain":["Berriasian","Valanginian","Hauterivian","Barremian","Aptian","Albian","Cenomanian","Turonian","Coniacian","Santonian","Campanian","Maastrichtian","Danian","Thanetian","Ypresian","Lutetian","Bartonian","Priabonian","Rupelian","Chattian","Lower Miocene","Middle Miocene","Upper Miocene","Pliocene","Pleistocene","Recent"],"reverse":true,"paddingInner":0,"paddingOuter":0}},
                  "y": {"datum": 253, "type": "quantitative", "axis": null, "scale": {"domain":[0,300],"reverse":true,"nice":false,"zero":false}}}},
    {"data": {"values": [{}]}, "mark": {"type": "text", "text": "Deep sea paleotemperature", "angle": 180, "fontSize": 8.5, "align": "left", "baseline": "middle"},
     "encoding": {"x": {"datum": "Ypresian", "type": "ordinal", "bandPosition": 0, "scale": {"type":"band","domain":["Berriasian","Valanginian","Hauterivian","Barremian","Aptian","Albian","Cenomanian","Turonian","Coniacian","Santonian","Campanian","Maastrichtian","Danian","Thanetian","Ypresian","Lutetian","Bartonian","Priabonian","Rupelian","Chattian","Lower Miocene","Middle Miocene","Upper Miocene","Pliocene","Pleistocene","Recent"],"reverse":true,"paddingInner":0,"paddingOuter":0}},
                  "y": {"datum": 268, "type": "quantitative", "axis": null, "scale": {"domain":[0,300],"reverse":true,"nice":false,"zero":false}}}},
    {"data": {"name": "temp"}, "mark": {"type": "rule", "strokeWidth": 1.3, "color": "#111111"},
     "encoding": {"x": {"field": "stage", "type": "ordinal", "bandPosition": 0, "scale": {"type":"band","domain":["Berriasian","Valanginian","Hauterivian","Barremian","Aptian","Albian","Cenomanian","Turonian","Coniacian","Santonian","Campanian","Maastrichtian","Danian","Thanetian","Ypresian","Lutetian","Bartonian","Priabonian","Rupelian","Chattian","Lower Miocene","Middle Miocene","Upper Miocene","Pliocene","Pleistocene","Recent"],"reverse":true,"paddingInner":0,"paddingOuter":0}},
                  "x2": {"field": "stage", "bandPosition": 1},
                  "y": {"field": "temp", "type": "quantitative", "scale": {"domain":[-16.43,31.19],"reverse":true,"nice":false,"zero":false},
                        "axis": {"orient": "left", "offset": -95.4, "values": [0, 10, 20], "labelExpr": "datum.value === 20 ? '20°C' : datum.label", "labelAngle": 180, "labelAlign": "left", "labelBaseline": "middle", "labelFontSize": 9.5, "labelPadding": 5, "tickSize": 5, "tickWidth": 1, "domain": false, "title": null}}}},
    {"data": {"name": "temp"}, "mark": {"type": "line", "interpolate": "step", "strokeWidth": 1.3, "color": "#111111"},
     "encoding": {"x": {"field": "stage", "type": "ordinal", "sort": ["Berriasian","Valanginian","Hauterivian","Barremian","Aptian","Albian","Cenomanian","Turonian","Coniacian","Santonian","Campanian","Maastrichtian","Danian","Thanetian","Ypresian","Lutetian","Bartonian","Priabonian","Rupelian","Chattian","Lower Miocene","Middle Miocene","Upper Miocene","Pliocene","Pleistocene","Recent"], "scale": {"type":"band","domain":["Berriasian","Valanginian","Hauterivian","Barremian","Aptian","Albian","Cenomanian","Turonian","Coniacian","Santonian","Campanian","Maastrichtian","Danian","Thanetian","Ypresian","Lutetian","Bartonian","Priabonian","Rupelian","Chattian","Lower Miocene","Middle Miocene","Upper Miocene","Pliocene","Pleistocene","Recent"],"reverse":true,"paddingInner":0,"paddingOuter":0}},
                  "y": {"field": "temp", "type": "quantitative", "scale": {"domain":[-16.43,31.19],"reverse":true,"nice":false,"zero":false},
                        "axis": {"orient": "left", "offset": -95.4, "values": [2, 4, 6, 8, 12, 14, 16, 18], "labels": false, "tickSize": 3, "tickWidth": 0.8, "domain": false, "title": null}}}},
    {"data": {"values": [{}]}, "mark": {"type": "rule", "strokeWidth": 1, "color": "#111111"},
     "encoding": {"x": {"datum": "Lower Miocene", "type": "ordinal", "bandPosition": 0, "scale": {"type":"band","domain":["Berriasian","Valanginian","Hauterivian","Barremian","Aptian","Albian","Cenomanian","Turonian","Coniacian","Santonian","Campanian","Maastrichtian","Danian","Thanetian","Ypresian","Lutetian","Bartonian","Priabonian","Rupelian","Chattian","Lower Miocene","Middle Miocene","Upper Miocene","Pliocene","Pleistocene","Recent"],"reverse":true,"paddingInner":0,"paddingOuter":0}},
                  "y": {"datum": 0, "type": "quantitative", "axis": null, "scale": {"domain":[-16.43,31.19],"reverse":true,"nice":false,"zero":false}},
                  "y2": {"datum": 20}}}
   ]}
]
}
